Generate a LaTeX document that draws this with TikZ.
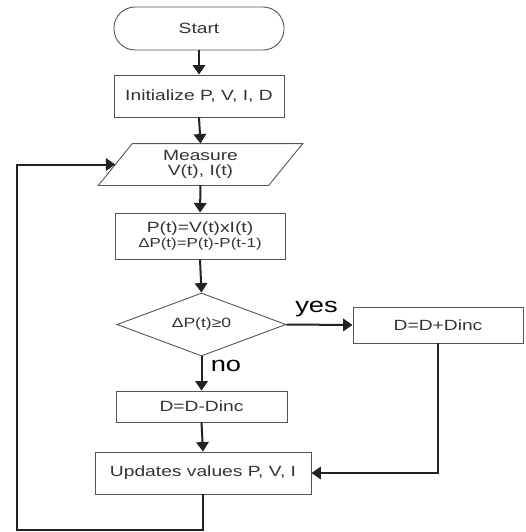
\documentclass[tikz,border=0pt]{standalone}
\usepackage{fontspec}
\setmainfont{Liberation Sans}[FakeStretch=1.3]
\usetikzlibrary{shapes.geometric,arrows.meta,calc}
\definecolor{txt}{HTML}{333333}
\definecolor{edgec}{HTML}{555555}
\definecolor{connc}{HTML}{222222}
\begin{document}
\begin{tikzpicture}[x=1pt,y=-1pt,
 box/.style={draw=edgec, line width=0.9pt, rectangle, text=txt, font=\fontsize{14.8}{16.5}\selectfont, align=center, inner sep=0pt},
 conn/.style={draw=connc, line width=2pt, line join=miter, -{Triangle[length=9.5pt,width=12.5pt]}},
 lbl/.style={text=black, font=\fontsize{21}{22}\selectfont, inner sep=0pt, anchor=base}]
\useasboundingbox (0,0) rectangle (526,532);
\node[box, rounded corners=21pt, minimum width=170pt, minimum height=43pt] (start) at (199,28.5) {Start};
\node[box, minimum width=170pt, minimum height=42pt] (init) at (199,96) {Initialize P, V, I, D};
\node[box, draw=none, minimum width=135.5pt, minimum height=41pt] (meas) at (200.5,164.5) {Measure\\[-1pt]V(t), I(t)};
\draw[draw=edgec, line width=0.9pt] (meas.north west) -- ([xshift=34pt]meas.north east) -- (meas.south east) -- ([xshift=-34pt]meas.south west) -- cycle;
\node[box, minimum width=170pt, minimum height=46pt] (calc) at (200,236) {P(t)=V(t)xI(t)\\[-2pt]{\fontsize{13}{14}\selectfont ΔP(t)=P(t)-P(t-1)}};
\node[box, diamond, aspect=2.68, minimum width=169pt, minimum height=63pt, font=\fontsize{13.5}{15}\selectfont] (dec) at (201.5,324.5) {ΔP(t)≥0};
\node[box, minimum width=170pt, minimum height=36pt] (inc) at (438,325) {D=D+Dinc};
\node[box, minimum width=171pt, minimum height=31pt] (dn) at (201.5,406.5) {D=D-Dinc};
\node[box, minimum width=216pt, minimum height=42pt] (upd) at (203,473) {Updates values P, V, I};
\node[lbl] (yes) at (316.5,312) {yes};
\node[lbl] (no) at (226,371) {no};
\coordinate (lc) at (17,530);
\draw[conn] (start.south) -- (init.north);
\draw[conn] (init.south) -- (meas.north);
\draw[conn] (meas.south) -- (calc.north);
\draw[conn] (calc.south) -- (dec.north);
\draw[conn] (dec.east) -- (inc.west);
\draw[conn] (dec.south) -- (dn.north);
\draw[conn] (dn.south) -- (upd.north);
\draw[conn] (inc.south) |- (upd.east);
\draw[conn] (upd.south) |- (lc) |- ([xshift=-17pt]meas.west);
\end{tikzpicture}
\end{document}
